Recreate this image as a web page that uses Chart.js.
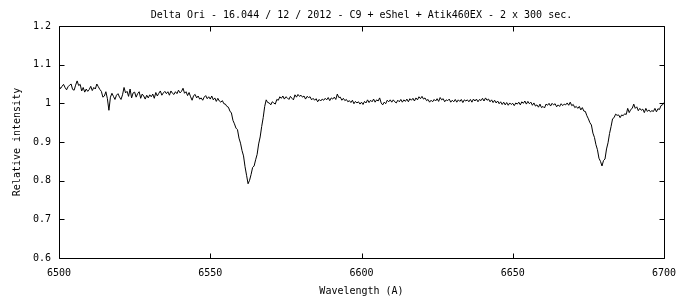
<!DOCTYPE html>
<html>
<head>
<meta charset="utf-8">
<script src="https://cdn.jsdelivr.net/npm/chart.js@4/dist/chart.umd.min.js"></script>
<style>
html,body{margin:0;padding:0;background:#fff}
#wrap{width:680px;height:300px}
</style>
</head>
<body>
<div id="wrap"><canvas id="c" width="680" height="300"></canvas></div>
<script>
const chartTitle = "Delta Ori - 16.044 / 12 / 2012 - C9 + eShel + Atik460EX - 2 x 300 sec.";
const xAxisTitle = "Wavelength (A)";
const yAxisTitle = "Relative intensity";
const xTickLabels = ["6500", "6550", "6600", "6650", "6700"];
const yTickLabels = ["0.6", "0.7", "0.8", "0.9", "1", "1.1", "1.2"];
const wavelengthStart = 6500;   // first sample (A)
const wavelengthStep = 0.5;     // sampling of the spectrum (A)
// relative intensity, one value per 0.5 A from 6500 to 6700 A (10 values per row = 5 A)
const intensity = [
  1.046, 1.038, 1.044, 1.049, 1.041, 1.035, 1.043, 1.047, 1.050, 1.036,
  1.034, 1.047, 1.058, 1.046, 1.049, 1.032, 1.041, 1.029, 1.037, 1.031,
  1.036, 1.044, 1.033, 1.041, 1.037, 1.050, 1.043, 1.036, 1.031, 1.016,
  1.019, 1.030, 1.012, 0.982, 1.016, 1.026, 1.018, 1.010, 1.021, 1.025,
  1.016, 1.010, 1.022, 1.041, 1.027, 1.031, 1.018, 1.037, 1.014, 1.027,
  1.029, 1.016, 1.025, 1.030, 1.013, 1.024, 1.019, 1.011, 1.021, 1.014,
  1.022, 1.017, 1.024, 1.013, 1.028, 1.019, 1.026, 1.032, 1.021, 1.027,
  1.031, 1.025, 1.030, 1.021, 1.032, 1.026, 1.023, 1.030, 1.025, 1.034,
  1.027, 1.031, 1.039, 1.026, 1.030, 1.020, 1.028, 1.017, 1.008, 1.020,
  1.023, 1.014, 1.019, 1.011, 1.014, 1.008, 1.016, 1.020, 1.012, 1.017,
  1.011, 1.019, 1.009, 1.014, 1.005, 1.013, 1.006, 1.003, 1.007, 0.999,
  0.998, 0.992, 0.990, 0.980, 0.975, 0.956, 0.947, 0.936, 0.932, 0.910,
  0.897, 0.878, 0.864, 0.836, 0.814, 0.792, 0.801, 0.816, 0.834, 0.838,
  0.854, 0.868, 0.895, 0.913, 0.940, 0.963, 0.992, 1.009, 1.002, 1.001,
  0.996, 1.004, 1.001, 0.998, 1.010, 1.008, 1.017, 1.013, 1.019, 1.011,
  1.017, 1.014, 1.010, 1.018, 1.013, 1.009, 1.022, 1.016, 1.023, 1.018,
  1.021, 1.016, 1.019, 1.011, 1.018, 1.015, 1.017, 1.009, 1.013, 1.008,
  1.012, 1.004, 1.010, 1.006, 1.011, 1.008, 1.013, 1.009, 1.015, 1.007,
  1.014, 1.011, 1.016, 1.010, 1.024, 1.015, 1.016, 1.008, 1.013, 1.007,
  1.010, 1.004, 1.007, 1.002, 1.008, 0.999, 1.005, 1.001, 1.004, 0.998,
  1.003, 0.997, 1.005, 1.001, 1.009, 1.002, 1.008, 1.004, 1.011, 1.003,
  1.009, 1.006, 1.014, 1.001, 0.996, 1.003, 0.999, 1.008, 1.004, 1.009,
  1.003, 1.009, 1.004, 1.001, 1.008, 1.004, 1.010, 1.003, 1.009, 1.005,
  1.011, 1.004, 1.012, 1.008, 1.013, 1.006, 1.014, 1.009, 1.017, 1.012,
  1.018, 1.011, 1.014, 1.007, 1.010, 1.003, 1.008, 1.004, 1.010, 1.006,
  1.012, 1.005, 1.015, 1.009, 1.012, 1.004, 1.009, 1.007, 1.011, 1.003,
  1.008, 1.004, 1.010, 1.003, 1.009, 1.005, 1.010, 1.002, 1.009, 1.006,
  1.009, 1.004, 1.010, 1.003, 1.011, 1.006, 1.011, 1.004, 1.010, 1.007,
  1.013, 1.006, 1.014, 1.008, 1.011, 1.004, 1.009, 1.002, 1.008, 1.001,
  1.006, 0.999, 1.004, 0.997, 1.003, 0.996, 1.002, 0.995, 1.001, 0.997,
  1.000, 0.994, 1.001, 0.998, 1.003, 0.996, 1.004, 1.000, 1.006, 0.998,
  1.005, 0.999, 1.003, 0.995, 1.001, 0.993, 0.996, 0.990, 0.998, 0.989,
  0.992, 0.988, 0.998, 0.995, 1.000, 0.993, 1.000, 0.996, 0.999, 0.991,
  0.996, 0.992, 0.999, 0.994, 0.998, 0.996, 1.001, 0.995, 1.003, 0.994,
  0.997, 0.989, 0.992, 0.987, 0.992, 0.983, 0.989, 0.980, 0.979, 0.968,
  0.960, 0.950, 0.944, 0.923, 0.912, 0.893, 0.880, 0.858, 0.850, 0.838,
  0.852, 0.856, 0.882, 0.898, 0.922, 0.940, 0.960, 0.963, 0.972, 0.969,
  0.970, 0.963, 0.970, 0.968, 0.973, 0.971, 0.987, 0.976, 0.984, 0.987,
  0.998, 0.987, 0.991, 0.981, 0.987, 0.982, 0.985, 0.976, 0.987, 0.979,
  0.983, 0.978, 0.981, 0.979, 0.987, 0.978, 0.986, 0.984, 0.994, 0.996,
  1.002
];

const points = intensity.map((v, i) => ({ x: wavelengthStart + i * wavelengthStep, y: v }));

const FONT = { family: "'DejaVu Sans Mono', 'Liberation Mono', monospace", size: 10, weight: 'normal', lineHeight: 1.2 };
const TICK_LEN = 5;

const frameTicks = {
  id: 'frameTicks',
  afterDatasetsDraw(chart) {
    const { ctx, chartArea: a, scales: { x, y } } = chart;
    const L = Math.round(a.left) + 0.5, R = Math.round(a.right) + 0.5;
    const T = Math.round(a.top) + 0.5, B = Math.round(a.bottom) + 0.5;
    ctx.save();
    ctx.strokeStyle = '#000';
    ctx.lineWidth = 1;
    ctx.beginPath();
    ctx.rect(L, T, R - L, B - T);
    x.ticks.forEach(t => {
      const px = Math.round(x.getPixelForValue(t.value)) + 0.5;
      ctx.moveTo(px, B); ctx.lineTo(px, B - TICK_LEN);
      ctx.moveTo(px, T); ctx.lineTo(px, T + TICK_LEN);
    });
    y.ticks.forEach(t => {
      const py = Math.round(y.getPixelForValue(t.value)) + 0.5;
      ctx.moveTo(L, py); ctx.lineTo(L + TICK_LEN, py);
      ctx.moveTo(R, py); ctx.lineTo(R - TICK_LEN, py);
    });
    ctx.stroke();
    ctx.restore();
  }
};

new Chart(document.getElementById('c'), {
  type: 'line',
  data: {
    datasets: [{
      data: points,
      borderColor: '#000',
      borderWidth: 1,
      pointRadius: 0,
      tension: 0,
      fill: false
    }]
  },
  options: {
    responsive: false,
    animation: false,
    devicePixelRatio: 1,
    layout: { padding: { left: 0, right: 16, top: 0, bottom: 0 } },
    plugins: {
      legend: { display: false },
      tooltip: { enabled: false },
      title: {
        display: true,
        text: chartTitle,
        fullSize: false,
        color: '#000',
        font: FONT,
        padding: { top: 9, bottom: 5 }
      }
    },
    scales: {
      x: {
        type: 'linear',
        min: 6500,
        max: 6700,
        border: { display: false },
        grid: { display: false, drawTicks: false },
        ticks: {
          stepSize: 50,
          padding: 9,
          color: '#000',
          font: FONT,
          maxRotation: 0,
          autoSkip: false,
          callback: (v, i) => xTickLabels[i]
        },
        title: { display: true, text: xAxisTitle, color: '#000', font: FONT, padding: { top: 0, bottom: 3 } },
        afterFit(s) { s.height = 42; s.paddingLeft = 0; s.paddingRight = 0; }
      },
      y: {
        type: 'linear',
        min: 0.6,
        max: 1.2,
        border: { display: false },
        grid: { display: false, drawTicks: false },
        ticks: {
          stepSize: 0.1,
          padding: 8,
          color: '#000',
          font: FONT,
          callback: (v, i) => yTickLabels[i]
        },
        title: { display: true, text: yAxisTitle, color: '#000', font: FONT, padding: { top: 11, bottom: 0 } },
        afterFit(s) { s.width = 59; s.paddingTop = 0; s.paddingBottom = 0; }
      }
    }
  },
  plugins: [frameTicks]
});
</script>
</body>
</html>
